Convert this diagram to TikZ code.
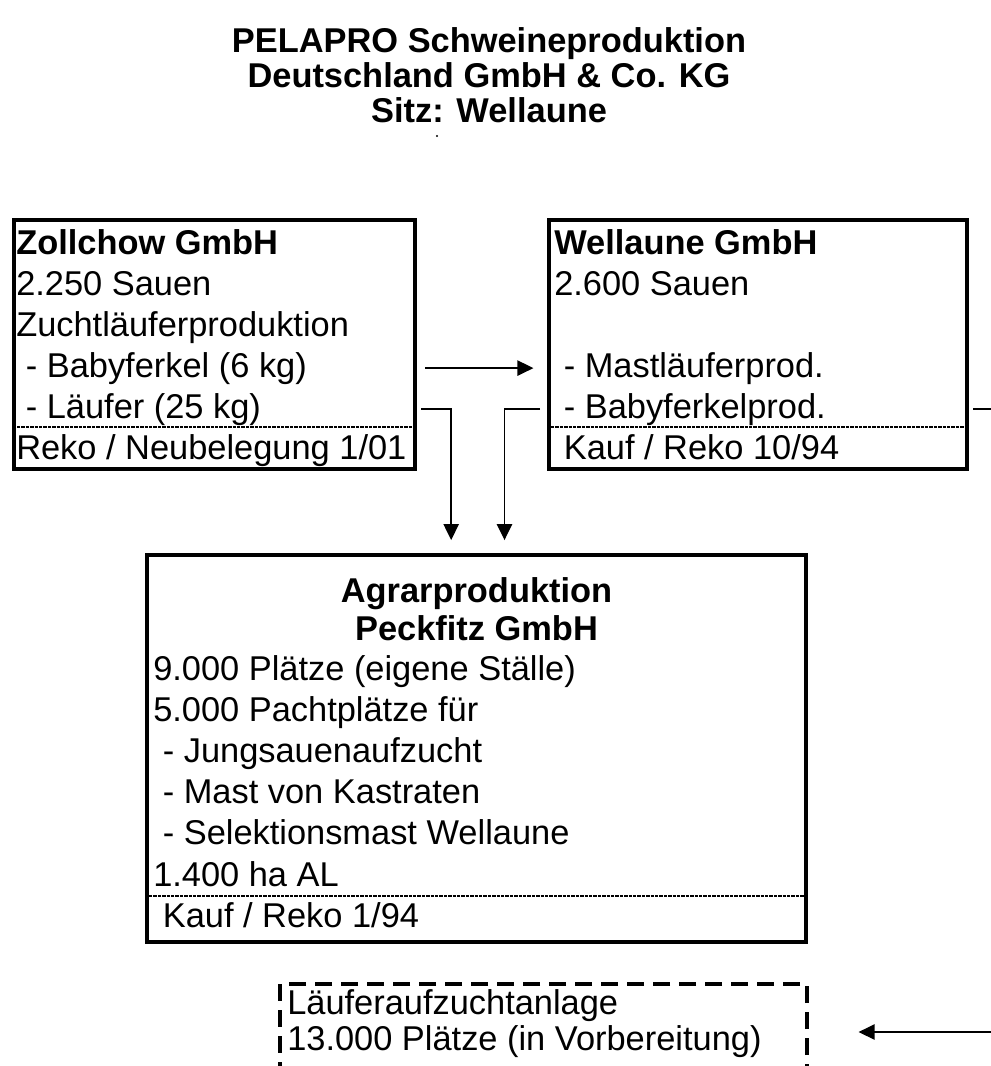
\documentclass[tikz,border=0pt]{standalone}
\usepackage{fontspec}
\setmainfont{Liberation Sans}
\usetikzlibrary{arrows.meta,positioning,fit}

\tikzset{
  firm/.style={draw, line width=3.4pt, inner sep=0pt},
  plan/.style={draw, line width=3.4pt, inner sep=0pt, dash pattern=on 13pt off 6.5pt},
  txt/.style={inner sep=0pt, anchor=base west, font=\fontsize{25.8}{31}\selectfont},
  head/.style={txt, font=\fontsize{25.8}{31}\selectfont\bfseries},
  sep/.style={line width=0.9pt, dash pattern=on 2.5pt off 0.8pt},
  flow/.style={line width=1.1pt, -{Triangle[length=12pt,width=11.5pt]}},
  link/.style={line width=1.1pt}
}

\begin{document}
\begin{tikzpicture}[x=0.75pt,y=-0.75pt]
    \useasboundingbox (0,0) rectangle (991,1066);

    % Kopf
    \foreach \t [count=\i from 0] in {PELAPRO Schweineproduktion, Deutschland GmbH \& Co. KG, Sitz: Wellaune}
      \node[head, anchor=base] (title-\i) at (489,{53+35*\i}) {\t};
    \fill (437,136) circle (0.9pt);

    % Zollchow
    \node[firm, fit={(14,220) (415,469)}] (zoll) {};
    \node[head] (zoll-0) at (16,254) {Zollchow GmbH};
    \foreach \t [count=\i] in {2.250 Sauen, Zuchtläuferproduktion, {\ - Babyferkel (6 kg)}, {\ - Läufer (25 kg)}, Reko / Neubelegung 1/01}
      \node[txt] (zoll-\i) at (16,{254+41*\i}) {\t};
    \draw[sep] (17,427) -- (412,427);

    % Wellaune
    \node[firm, fit={(549,220) (967,469)}] (well) {};
    \node[head] (well-0) at (554,254) {Wellaune GmbH};
    \foreach \t [count=\i] in {2.600 Sauen, {}, {\ - Mastläuferprod.}, {\ - Babyferkelprod.}, {\ Kauf / Reko 10/94}}
      \node[txt] (well-\i) at (554,{254+41*\i}) {\t};
    \draw[sep] (551,427) -- (965,427);

    % Peckfitz
    \node[firm, fit={(147,555) (806,942)}] (peck) {};
    \node[head, anchor=base] (peck-h1) at (476.5,602) {Agrarproduktion};
    \node[head, anchor=base] (peck-h2) at (476.5,640) {Peckfitz GmbH};
    \foreach \t [count=\i from 0] in {9.000 Plätze (eigene Ställe), 5.000 Pachtplätze für, {\ - Jungsauenaufzucht}, {\ - Mast von Kastraten}, {\ - Selektionsmast Wellaune}, 1.400 ha AL, {\ Kauf / Reko 1/94}}
      \node[txt] (peck-\i) at (153,{680+41.2*\i}) {\t};
    \draw[sep] (149,896) -- (804,896);

    % Laeuferaufzucht
    \node[plan, fit={(280,984) (807,1074)}] (lauf) {};
    \node[txt] (lauf-0) at (287,1014) {Läuferaufzuchtanlage};
    \node[txt] (lauf-1) at (287,1050) {13.000 Plätze (in Vorbereitung)};

    % Verbindungen
    \coordinate (rim) at (991,1032);
    \draw[flow] ([xshift=6pt]zoll.east |- zoll-3) -- ([xshift=-10pt]well.west |- zoll-3);
    \draw[flow] ([xshift=3pt]zoll.east |- zoll-4) -| ([xshift=-19pt,yshift=9.5pt]peck.north);
    \draw[flow] ([xshift=-5pt]well.west |- well-4) -| ([xshift=21pt,yshift=9.5pt]peck.north);
    \draw[link] ([xshift=3pt]well.east |- well-4) -- (rim |- well-4);
    \draw[flow] (rim) -- ([xshift=37pt]lauf.east |- rim);

  \end{tikzpicture}
\end{document}
